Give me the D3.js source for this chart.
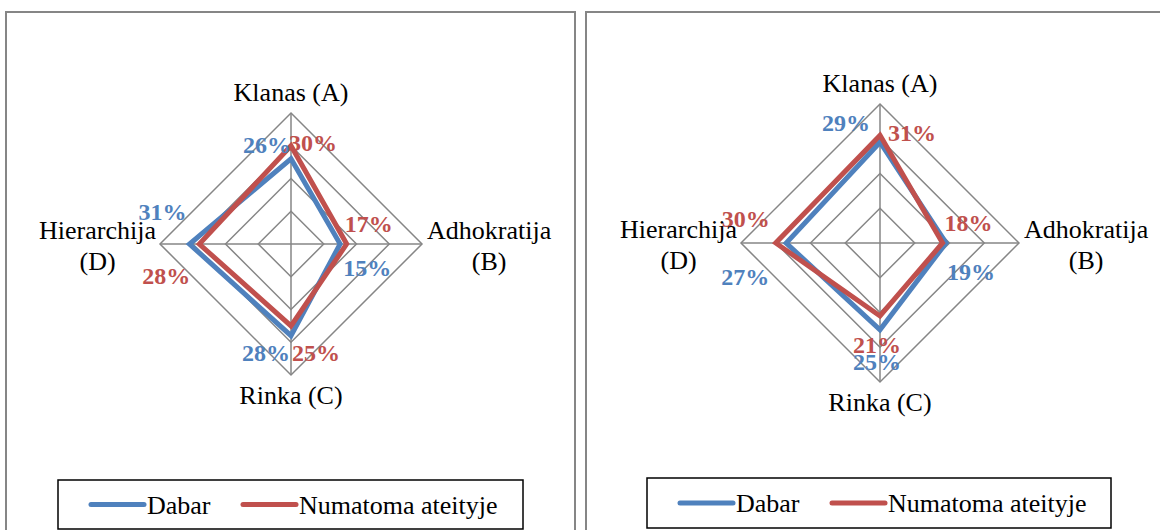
<!DOCTYPE html>
<html>
<head>
<meta charset="utf-8">
<script src="https://cdn.jsdelivr.net/npm/d3@7"></script>
<style>
  html, body { margin: 0; padding: 0; background: #fff; }
  svg { display: block; }
</style>
</head>
<body>
<svg id="chart" width="1160" height="530"></svg>
<script>
// ---- data ----
const categories = ["Klanas (A)", "Adhokratija (B)", "Rinka (C)", "Hierarchija (D)"];
const seriesNames = ["Dabar", "Numatoma ateityje"];
const ringTicks = [0.1, 0.2, 0.3, 0.4];
// left chart
const leftDabar = [0.26, 0.15, 0.28, 0.31];
const leftNumatoma = [0.30, 0.17, 0.25, 0.28];
// right chart
const rightDabar = [0.29, 0.19, 0.25, 0.27];
const rightNumatoma = [0.31, 0.18, 0.21, 0.30];

// ---- layout (not data) ----
const colors = ["#4F81BD", "#C0504D"];
const gridColor = "#868686";
// label offsets (dx, dy) of label centre from the data point, per series, per axis
const leftLabelOffsets = [
  [[-24, -14], [27, 24], [-25, 17], [-27, -32]],
  [[22, -3], [22, -20], [25, 27], [-33, 32]]
];
const rightLabelOffsets = [
  [[-34, -19], [25, 29], [-3, 32], [-41, 34]],
  [[32, -2], [26, -20], [-3, 29], [-30, -24]]
];
const panels = [
  { x: 6, y: 12, w: 569, h: 540, cx: 291, cy: 244, r: 131,
    series: [leftDabar, leftNumatoma], offsets: leftLabelOffsets,
    legend: { x: 58, y: 480, w: 465, h: 49 } },
  { x: 586, y: 12, w: 600, h: 540, cx: 880, cy: 243, r: 139,
    series: [rightDabar, rightNumatoma], offsets: rightLabelOffsets,
    legend: { x: 647, y: 478, w: 464, h: 50 } }
];

const svg = d3.select("#chart");
const font = "'Liberation Serif', 'Times New Roman', serif";
const fmt = d3.format(".0%");
const catSize = 26;

panels.forEach(p => {
  const g = svg.append("g");
  g.append("rect")
    .attr("x", p.x).attr("y", p.y).attr("width", p.w).attr("height", p.h)
    .attr("fill", "#fff").attr("stroke", gridColor).attr("stroke-width", 2);

  const rScale = d3.scaleLinear().domain([0, 0.4]).range([0, p.r]);
  const angle = d3.scaleLinear().domain([0, categories.length]).range([-Math.PI / 2, 1.5 * Math.PI]);
  const pt = (i, v) => [p.cx + rScale(v) * Math.cos(angle(i)), p.cy + rScale(v) * Math.sin(angle(i))];
  const line = d3.line().curve(d3.curveLinearClosed);

  // grid rings
  ringTicks.forEach(t => {
    g.append("path")
      .attr("d", line(categories.map((c, i) => pt(i, t))))
      .attr("fill", "none").attr("stroke", gridColor).attr("stroke-width", 1.5);
  });
  // spokes
  categories.forEach((c, i) => {
    const [x2, y2] = pt(i, 0.4);
    g.append("line").attr("x1", p.cx).attr("y1", p.cy).attr("x2", x2).attr("y2", y2)
      .attr("stroke", gridColor).attr("stroke-width", 1.5);
  });

  // series
  p.series.forEach((vals, s) => {
    g.append("path")
      .attr("d", line(vals.map((v, i) => pt(i, v))))
      .attr("fill", "none").attr("stroke", colors[s]).attr("stroke-width", 5)
      .attr("stroke-linejoin", "miter");
  });

  // data labels
  p.series.forEach((vals, s) => {
    vals.forEach((v, i) => {
      const [x, y] = pt(i, v);
      const [dx, dy] = p.offsets[s][i];
      g.append("text")
        .attr("x", x + dx).attr("y", y + dy)
        .attr("text-anchor", "middle").attr("dominant-baseline", "central")
        .attr("font-family", font).attr("font-size", 24).attr("font-weight", "bold")
        .attr("fill", colors[s])
        .text(fmt(v));
    });
  });

  // category labels
  const catText = (txt, x, y, anchor) => g.append("text")
    .attr("x", x).attr("y", y).attr("text-anchor", anchor)
    .attr("font-family", font).attr("font-size", catSize).attr("fill", "#000").text(txt);

  const [tx, ty] = pt(0, 0.4);
  catText(categories[0], tx, ty - 12, "middle");
  const [bx, by] = pt(2, 0.4);
  catText(categories[2], bx, by + 29, "middle");

  // right (B), two lines
  const [rx, ry] = pt(1, 0.4);
  const bParts = categories[1].split(" ");
  const b1 = catText(bParts[0], rx + 5, ry - 5, "start");
  const bw = b1.node().getComputedTextLength();
  catText(bParts[1], rx + 5 + bw / 2, ry + 26, "middle");

  // left (D), two lines
  const [lx, ly] = pt(3, 0.4);
  const dParts = categories[3].split(" ");
  const d1 = catText(dParts[0], lx - 4, ly - 5, "end");
  const dw = d1.node().getComputedTextLength();
  catText(dParts[1], lx - 4 - dw / 2, ly + 26, "middle");

  // legend
  const L = p.legend;
  g.append("rect").attr("x", L.x).attr("y", L.y).attr("width", L.w).attr("height", L.h)
    .attr("fill", "#fff").attr("stroke", "#000").attr("stroke-width", 1.5);
  const ly0 = L.y + L.h / 2;
  const items = [{ x: L.x + 33 }, { x: L.x + 185 }];
  seriesNames.forEach((name, s) => {
    const ix = items[s].x;
    g.append("line").attr("x1", ix).attr("x2", ix + 53).attr("y1", ly0).attr("y2", ly0)
      .attr("stroke", colors[s]).attr("stroke-width", 5).attr("stroke-linecap", "round");
    g.append("text").attr("x", ix + 56).attr("y", ly0 + 9)
      .attr("font-family", font).attr("font-size", catSize).attr("fill", "#000").text(name);
  });
});
</script>
</body>
</html>
